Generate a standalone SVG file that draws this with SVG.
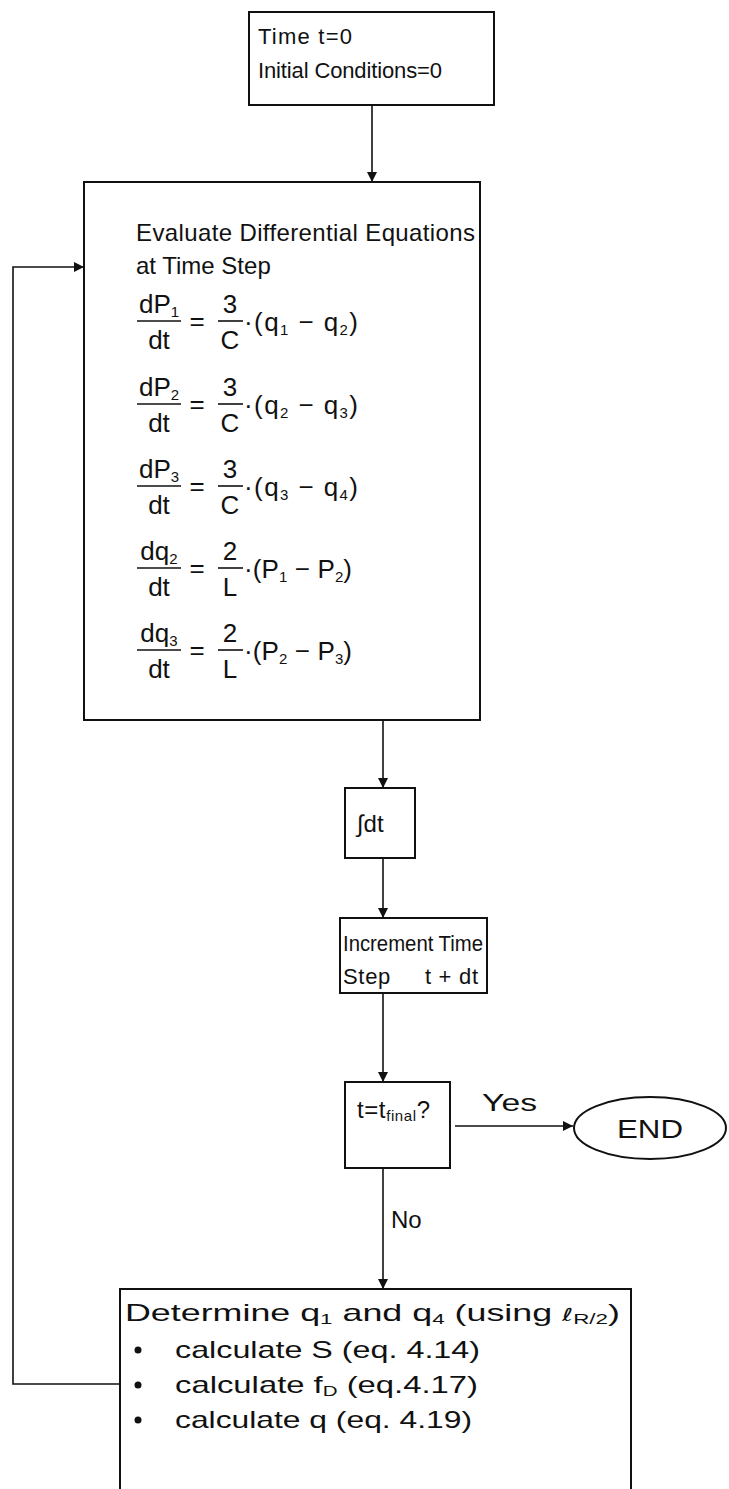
<svg xmlns="http://www.w3.org/2000/svg" width="729" height="1489" viewBox="0 0 729 1489">
<style>
.box{fill:none;stroke:#111;stroke-width:2}
.ln{fill:none;stroke:#111;stroke-width:1.6}
text{font-family:"Liberation Sans",Arial,"DejaVu Sans",sans-serif;fill:#111}
.t{font-size:22px}
.e{font-size:24px}
.q{font-size:26px}
.s{font-size:15px}
.m{text-anchor:middle}
</style>
<defs>
<marker id="ah" viewBox="0 0 10 10" refX="10" refY="5" markerWidth="10" markerHeight="10" markerUnits="userSpaceOnUse" orient="auto">
<path d="M0,0 L10,5 L0,10 z" fill="#111"/>
</marker>
</defs>
<rect width="729" height="1489" fill="#fff"/>
<g id="connectors">
<line class="ln" x1="372" y1="105" x2="372" y2="182" marker-end="url(#ah)"/>
<line class="ln" x1="383" y1="720" x2="383" y2="788" marker-end="url(#ah)"/>
<line class="ln" x1="383" y1="858" x2="383" y2="918" marker-end="url(#ah)"/>
<line class="ln" x1="383" y1="993" x2="383" y2="1082" marker-end="url(#ah)"/>
<line class="ln" x1="455" y1="1126" x2="573" y2="1126" marker-end="url(#ah)"/>
<line class="ln" x1="383" y1="1168" x2="383" y2="1289" marker-end="url(#ah)"/>
<polyline class="ln" points="120,1384 13,1384 13,267 84,267" marker-end="url(#ah)"/>
<text class="e" x="482" y="1111" textLength="55" lengthAdjust="spacingAndGlyphs">Yes</text>
<text class="e" x="391" y="1228">No</text>
</g>
<g id="start">
<rect class="box" x="249" y="12" width="245" height="93"/>
<text class="t" x="258" y="44" textLength="94">Time t=0</text>
<text class="t" x="258" y="78" textLength="184">Initial Conditions=0</text>
</g>
<g id="evaluate">
<rect class="box" x="84" y="182" width="396" height="538"/>
<text class="e" x="136" y="241" textLength="339">Evaluate Differential Equations</text>
<text class="e" x="136" y="274">at Time Step</text>
<g id="eq1" transform="translate(0,321)">
<text class="q m" x="159" y="-8">dP<tspan class="s" dy="4">1</tspan></text>
<line class="ln" x1="137" y1="0" x2="181" y2="0"/>
<text class="q m" x="159" y="28">dt</text>
<text class="q m" x="197" y="9">=</text>
<text class="q m" x="230" y="-8">3</text>
<line class="ln" x1="218" y1="0" x2="243" y2="0"/>
<text class="q m" x="230" y="28">C</text>
<text class="q" x="244" y="10" textLength="114">·(q<tspan class="s" dy="4">1</tspan><tspan dy="-4"> − q</tspan><tspan class="s" dy="4">2</tspan><tspan dy="-4">)</tspan></text>
</g>
<g id="eq2" transform="translate(0,404)">
<text class="q m" x="159" y="-8">dP<tspan class="s" dy="4">2</tspan></text>
<line class="ln" x1="137" y1="0" x2="181" y2="0"/>
<text class="q m" x="159" y="28">dt</text>
<text class="q m" x="197" y="9">=</text>
<text class="q m" x="230" y="-8">3</text>
<line class="ln" x1="218" y1="0" x2="243" y2="0"/>
<text class="q m" x="230" y="28">C</text>
<text class="q" x="244" y="10" textLength="114">·(q<tspan class="s" dy="4">2</tspan><tspan dy="-4"> − q</tspan><tspan class="s" dy="4">3</tspan><tspan dy="-4">)</tspan></text>
</g>
<g id="eq3" transform="translate(0,486)">
<text class="q m" x="159" y="-8">dP<tspan class="s" dy="4">3</tspan></text>
<line class="ln" x1="137" y1="0" x2="181" y2="0"/>
<text class="q m" x="159" y="28">dt</text>
<text class="q m" x="197" y="9">=</text>
<text class="q m" x="230" y="-8">3</text>
<line class="ln" x1="218" y1="0" x2="243" y2="0"/>
<text class="q m" x="230" y="28">C</text>
<text class="q" x="244" y="10" textLength="114">·(q<tspan class="s" dy="4">3</tspan><tspan dy="-4"> − q</tspan><tspan class="s" dy="4">4</tspan><tspan dy="-4">)</tspan></text>
</g>
<g id="eq4" transform="translate(0,568)">
<text class="q m" x="159" y="-8">dq<tspan class="s" dy="4">2</tspan></text>
<line class="ln" x1="137" y1="0" x2="181" y2="0"/>
<text class="q m" x="159" y="28">dt</text>
<text class="q m" x="197" y="9">=</text>
<text class="q m" x="230" y="-8">2</text>
<line class="ln" x1="218" y1="0" x2="243" y2="0"/>
<text class="q m" x="230" y="28">L</text>
<text class="q" x="244" y="10" textLength="108">·(P<tspan class="s" dy="4">1</tspan><tspan dy="-4"> − P</tspan><tspan class="s" dy="4">2</tspan><tspan dy="-4">)</tspan></text>
</g>
<g id="eq5" transform="translate(0,650)">
<text class="q m" x="159" y="-8">dq<tspan class="s" dy="4">3</tspan></text>
<line class="ln" x1="137" y1="0" x2="181" y2="0"/>
<text class="q m" x="159" y="28">dt</text>
<text class="q m" x="197" y="9">=</text>
<text class="q m" x="230" y="-8">2</text>
<line class="ln" x1="218" y1="0" x2="243" y2="0"/>
<text class="q m" x="230" y="28">L</text>
<text class="q" x="244" y="10" textLength="108">·(P<tspan class="s" dy="4">2</tspan><tspan dy="-4"> − P</tspan><tspan class="s" dy="4">3</tspan><tspan dy="-4">)</tspan></text>
</g>
</g>
<g id="integrate">
<rect class="box" x="345" y="788" width="70" height="70"/>
<text class="e" x="357" y="832">∫dt</text>
</g>
<g id="increment">
<rect class="box" x="340" y="918" width="147" height="75"/>
<text class="t" x="343" y="951" textLength="140" lengthAdjust="spacingAndGlyphs">Increment Time</text>
<text class="t" x="343" y="984" xml:space="preserve" textLength="135">Step     t + dt</text>
</g>
<g id="decision">
<rect class="box" x="345" y="1082" width="105" height="86"/>
<text class="e" x="357" y="1118" textLength="73">t=t<tspan class="s" dy="3">final</tspan><tspan dy="-3">?</tspan></text>
</g>
<g id="end">
<ellipse class="box" cx="650" cy="1128" rx="76" ry="31"/>
<text class="e" x="617" y="1138" textLength="66" lengthAdjust="spacingAndGlyphs" style="font-size:26px">END</text>
</g>
<g id="determine">
<polyline class="box" points="120,1489 120,1289 631,1289 631,1489"/>
<text class="e" x="125" y="1321" textLength="495" lengthAdjust="spacingAndGlyphs">Determine q<tspan class="s" dy="3">1</tspan><tspan dy="-3"> and q</tspan><tspan class="s" dy="3">4</tspan><tspan dy="-3"> (using </tspan><tspan font-family="DejaVu Sans" font-size="18">ℓ</tspan><tspan class="s" dy="3">R/2</tspan><tspan dy="-3">)</tspan></text>
<circle cx="138" cy="1350" r="3.5" fill="#111"/>
<circle cx="138" cy="1385" r="3.5" fill="#111"/>
<circle cx="138" cy="1420" r="3.5" fill="#111"/>
<text class="e" x="175" y="1358" textLength="305" lengthAdjust="spacingAndGlyphs">calculate S (eq. 4.14)</text>
<text class="e" x="175" y="1393" textLength="303" lengthAdjust="spacingAndGlyphs">calculate f<tspan class="s" dy="3">D</tspan><tspan dy="-3"> (eq.4.17)</tspan></text>
<text class="e" x="175" y="1428" textLength="297" lengthAdjust="spacingAndGlyphs">calculate q (eq. 4.19)</text>
</g>
</svg>
